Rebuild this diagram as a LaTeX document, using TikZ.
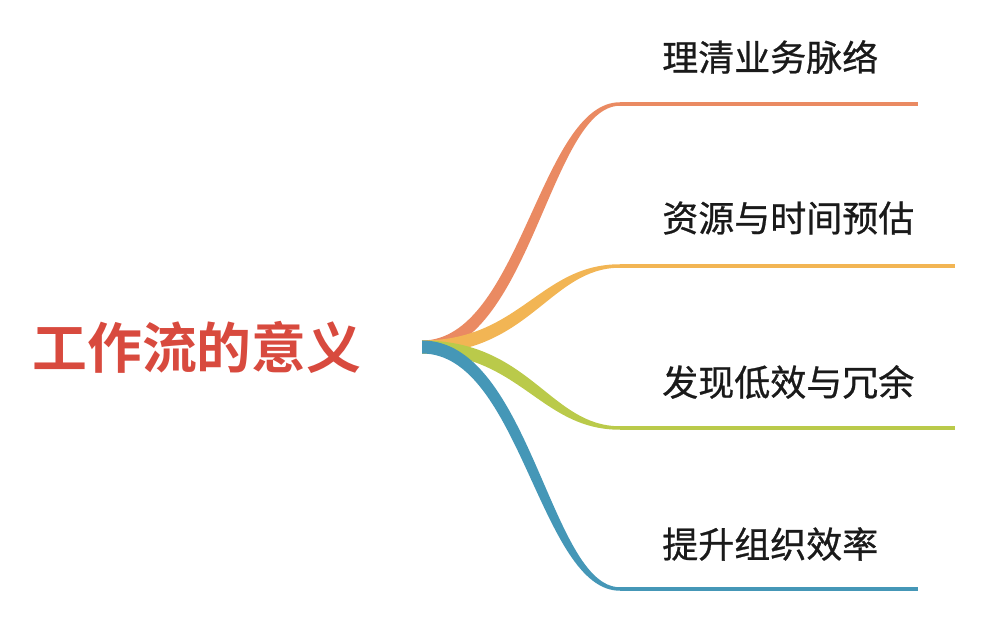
\documentclass[tikz,border=0pt]{standalone}
\usepackage{fontspec}
\usepackage{tikz}
\usetikzlibrary{calc}
\newfontfamily\cjk{Noto Sans CJK SC}[BoldFont={* Bold}]
\newfontfamily\cjkmid{Noto Sans CJK SC}[FakeBold=0.7]
\definecolor{titlered}{HTML}{D84A3E}
\definecolor{ink}{HTML}{1A1A1A}
\definecolor{coral}{HTML}{EA8A62}
\definecolor{amber}{HTML}{F2B554}
\definecolor{lime}{HTML}{BACA4A}
\definecolor{teal}{HTML}{4597B7}
\tikzset{
  title/.style={font=\cjk\bfseries\fontsize{39}{40}\selectfont, text=titlered, inner sep=0pt},
  leaf/.style={font=\cjkmid\fontsize{25.6}{27}\selectfont, text=ink, anchor=west, inner sep=0pt},
  stem/.style={line width=2.5pt, line cap=butt}
}
% tapered branch: colour, bend point, end point, +1 up / -1 down
\newcommand{\branch}[4]{%
  \fill[#1] ($(root)+(0,-6.5)$)
     .. controls ($(root)+(103-#4*5,-6.5)$) and ($(#2)+(-75-#4*5,-1.75)$) .. ($(#2)+(0,-1.75)$)
     -- ($(#2)+(0,1.75)$)
     .. controls ($(#2)+(-75+#4*5,1.75)$) and ($(root)+(103+#4*5,6.5)$) .. ($(root)+(0,6.5)$)
     -- cycle;
  \draw[stem, draw=#1] (#2) -- (#3);
}

\begin{document}
\begin{tikzpicture}[x=0.025cm, y=-0.025cm]
  \useasboundingbox (0,0) rectangle (982,622);

  % centre topic
  \node[title] (topic) at (197,347) {工作流的意义};
  \coordinate (root) at (422,347);

  % bends and ends
  \coordinate (k1) at (620,104);   \coordinate (e1) at (918,104);
  \coordinate (k2) at (620,266);   \coordinate (e2) at (955,266);
  \coordinate (k3) at (620,428);   \coordinate (e3) at (955,428);
  \coordinate (k4) at (620,589);   \coordinate (e4) at (918,589);

  % branches
  \branch{coral}{k1}{e1}{1}
  \branch{amber}{k2}{e2}{1}
  \branch{lime}{k3}{e3}{-1}
  \branch{teal}{k4}{e4}{-1}

  % leaves
  \node[leaf] (l1) at (662,57)  {理清业务脉络};
  \node[leaf] (l2) at (662,218) {资源与时间预估};
  \node[leaf] (l3) at (662,382) {发现低效与冗余};
  \node[leaf] (l4) at (662,544) {提升组织效率};
\end{tikzpicture}
\end{document}
